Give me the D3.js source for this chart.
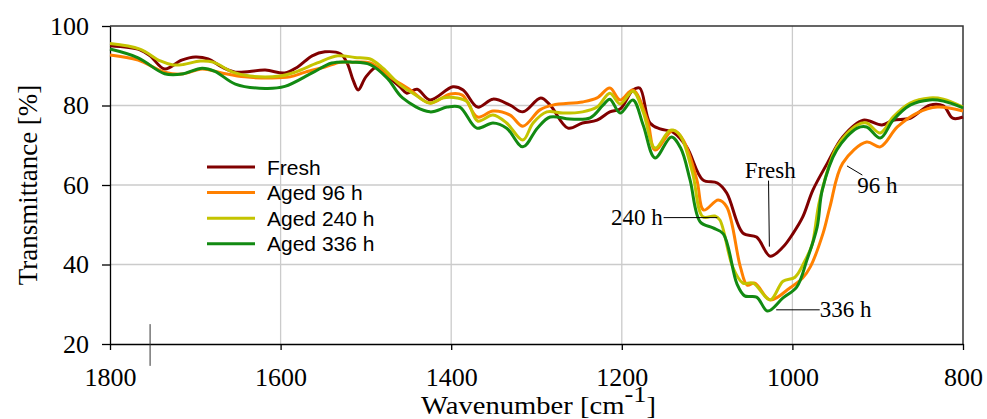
<!DOCTYPE html>
<meta charset="utf-8">
<script src="https://d3js.org/d3.v7.min.js"></script>
<style>
body { margin: 0; background: #fff; }
.tick text { font-family: "Liberation Serif", "Times New Roman", serif; font-size: 26px; fill: #000; }
.axis path, .axis line { stroke: #000; stroke-width: 1.3px; }
.grid line { stroke: #cbcbcb; stroke-width: 1.3px; }
.legend text { font-family: "Liberation Sans", Arial, sans-serif; font-size: 21px; fill: #000; }
.note text { font-family: "Liberation Serif", "Times New Roman", serif; font-size: 23px; fill: #000; }
.note line { stroke: #000; stroke-width: 1px; }
</style>
<body>
<svg id="chart" width="987" height="419"></svg>
<script>

// spectra: [wavenumber cm-1, transmittance %]
var fresh = [
  [1800,95.0],[1765,94.0],[1753,92.5],[1736,89.2],[1716,91.4],[1700,92.2],[1685,91.7],
  [1669,89.7],[1653,88.4],[1618,88.9],[1595,88.2],[1580,89.7],[1563,92.5],[1548,93.5],
  [1530,93.0],[1522,90.7],[1515,86.4],[1509,83.9],[1500,87.2],[1487,89.7],[1472,86.9],
  [1460,84.7],[1452,83.1],[1440,84.1],[1425,81.4],[1398,84.7],[1386,83.9],[1369,79.6],
  [1351,81.6],[1331,80.1],[1316,78.4],[1295,81.9],[1284,80.1],[1263,74.3],[1246,75.6],
  [1229,76.3],[1214,78.4],[1202,79.1],[1187,83.9],[1179,84.4],[1167,75.6],[1155,74.1],
  [1140,73.3],[1124,69.6],[1105,61.3],[1088,60.5],[1077,58.0],[1058,47.9],[1042,46.9],
  [1026,42.1],[1011,44.4],[999,47.9],[988,51.9],[976,58.7],[959,65.5],[941,72.1],
  [917,76.3],[895,75.1],[882,76.3],[862,76.8],[839,80.1],[823,79.9],[812,76.8],[800,77.1]
];

var aged96 = [
  [1800,92.7],[1767,91.4],[1736,88.4],[1716,87.9],[1692,89.2],[1669,88.2],[1642,87.2],
  [1610,86.9],[1589,87.2],[1571,88.4],[1548,89.7],[1530,90.9],[1516,90.9],[1495,90.7],
  [1472,87.2],[1448,83.9],[1425,80.6],[1401,82.9],[1387,82.6],[1369,77.1],[1351,78.6],
  [1331,77.6],[1316,74.8],[1296,78.9],[1281,80.1],[1246,80.9],[1229,81.9],[1214,84.4],
  [1202,81.4],[1187,83.9],[1170,76.3],[1161,68.8],[1140,73.8],[1128,71.3],[1112,61.3],
  [1104,53.7],[1087,56.2],[1077,54.5],[1061,39.4],[1053,34.8],[1044,35.3],[1026,31.1],
  [1003,34.1],[988,36.6],[979,39.4],[964,47.9],[956,54.5],[941,65.5],[913,70.8],
  [897,69.6],[877,74.6],[854,78.1],[830,79.6],[800,78.6]
];

var aged240 = [
  [1800,95.6],[1765,94.2],[1741,91.2],[1726,90.2],[1714,90.3],[1694,91.2],[1679,90.9],
  [1656,88.4],[1636,87.4],[1601,87.4],[1583,88.4],[1557,90.7],[1533,92.5],[1513,92.1],
  [1495,91.7],[1480,89.4],[1460,85.2],[1445,83.1],[1425,80.6],[1410,81.9],[1393,81.9],
  [1381,80.9],[1369,76.1],[1351,77.6],[1335,75.6],[1316,71.3],[1304,75.6],[1288,78.4],
  [1269,78.1],[1246,78.4],[1229,79.6],[1214,83.1],[1202,80.4],[1187,83.6],[1175,78.4],
  [1161,69.3],[1143,73.8],[1132,72.6],[1117,63.0],[1105,52.0],[1091,52.2],[1085,51.2],
  [1070,39.4],[1058,35.3],[1046,35.3],[1026,31.1],[1011,35.8],[997,36.8],[985,41.1],
  [977,44.9],[968,56.2],[948,69.6],[924,75.1],[913,75.6],[897,73.1],[882,77.1],
  [862,80.6],[839,81.9],[823,81.6],[800,79.6]
];

var aged336 = [
  [1800,94.2],[1767,92.0],[1736,88.0],[1716,87.9],[1692,89.4],[1677,88.6],[1653,85.4],
  [1618,84.3],[1595,84.8],[1563,88.2],[1540,90.7],[1516,90.9],[1495,90.3],[1475,86.9],
  [1457,81.9],[1425,78.4],[1405,79.6],[1390,79.6],[1370,74.3],[1351,75.6],[1335,74.3],
  [1316,69.6],[1299,74.3],[1284,77.1],[1261,76.6],[1237,76.9],[1222,80.1],[1214,81.6],
  [1202,78.1],[1187,81.4],[1175,75.1],[1161,66.8],[1142,72.1],[1131,69.3],[1120,61.3],
  [1108,50.7],[1093,49.2],[1081,47.7],[1065,35.1],[1056,32.1],[1042,31.8],[1029,28.3],
  [1011,31.6],[995,34.3],[983,41.1],[971,49.4],[965,58.7],[948,68.8],[924,74.3],
  [913,74.6],[897,71.8],[882,76.3],[862,80.1],[839,81.4],[823,81.1],[800,79.4]
];

var seriesNames = ["Fresh", "Aged 96 h", "Aged 240 h", "Aged 336 h"];
var seriesColors = ["#800000", "#ff8000", "#c4c400", "#128a12"];
var xTicks = [1800, 1600, 1400, 1200, 1000, 800];
var yTicks = [20, 40, 60, 80, 100];

// callouts: label, point on curve [wn, T], end of leader [wn, T], label anchor [wn, T]
var notes = [
  {label: "Fresh", anchor: "middle", from: [1027, 44.5], to: [1028, 61.1], text: [1026, 61.8]},
  {label: "96 h", anchor: "start", from: [936, 64.8], to: [918, 62.5], text: [924, 58.0]},
  {label: "240 h", anchor: "end", from: [1088, 51.8], to: [1151, 51.8], text: [1152, 49.9]},
  {label: "336 h", anchor: "start", from: [1019, 28.6], to: [968, 28.6], text: [968, 26.8]}
];

var margin = {top: 26, right: 24, bottom: 75, left: 110};
var width = 987 - margin.left - margin.right,
    height = 419 - margin.top - margin.bottom;

var svg = d3.select("#chart")
  .append("g")
    .attr("transform", "translate(" + margin.left + "," + margin.top + ")");

var x = d3.scaleLinear().domain([1800, 800]).range([0, width]);
var y = d3.scaleLinear().domain([20, 100]).range([height, 0]);

// grid
svg.append("g").attr("class", "grid")
  .selectAll("line").data(xTicks.slice(1, -1)).enter().append("line")
    .attr("x1", function(d) { return x(d); }).attr("x2", function(d) { return x(d); })
    .attr("y1", 0).attr("y2", height);
svg.append("g").attr("class", "grid")
  .selectAll("line").data(yTicks.slice(1, -1)).enter().append("line")
    .attr("y1", function(d) { return y(d); }).attr("y2", function(d) { return y(d); })
    .attr("x1", 0).attr("x2", width);

// top / right frame
svg.append("path")
  .attr("d", "M0,0H" + width + "V" + height)
  .attr("fill", "none").attr("stroke", "#333").attr("stroke-width", 1.5);

var xAxis = d3.axisBottom(x).tickValues(xTicks).tickFormat(d3.format("d"))
  .tickSize(6).tickSizeOuter(0).tickPadding(18);
var yAxis = d3.axisLeft(y).tickValues(yTicks).tickSize(8).tickSizeOuter(0).tickPadding(13);

svg.append("g").attr("class", "x axis")
  .attr("transform", "translate(0," + height + ")")
  .call(xAxis);
svg.append("g").attr("class", "y axis").call(yAxis);

// the stray mark below the axis near 1750
svg.append("line")
  .attr("x1", x(1753)).attr("x2", x(1753))
  .attr("y1", y(25)).attr("y2", y(14.5))
  .attr("stroke", "#333").attr("stroke-width", 1);

var line = d3.line()
  .x(function(d) { return x(d[0]); })
  .y(function(d) { return y(d[1]); })
  .curve(d3.curveCatmullRom.alpha(0.5));

var allSeries = [fresh, aged96, aged240, aged336];
svg.selectAll(".spectrum")
  .data(allSeries).enter().append("path")
    .attr("class", "spectrum")
    .attr("d", line)
    .attr("fill", "none")
    .attr("stroke", function(d, i) { return seriesColors[i]; })
    .attr("stroke-width", 3)
    .attr("stroke-linejoin", "round");

// callouts
var note = svg.append("g").attr("class", "note")
  .selectAll("g").data(notes).enter().append("g");
note.append("line")
  .attr("x1", function(d) { return x(d.from[0]); })
  .attr("y1", function(d) { return y(d.from[1]); })
  .attr("x2", function(d) { return x(d.to[0]); })
  .attr("y2", function(d) { return y(d.to[1]); });
note.append("text")
  .attr("x", function(d) { return x(d.text[0]); })
  .attr("y", function(d) { return y(d.text[1]); })
  .attr("text-anchor", function(d) { return d.anchor; })
  .text(function(d) { return d.label; });

// legend
var legend = svg.append("g").attr("class", "legend")
  .attr("transform", "translate(97,141)");
var row = legend.selectAll("g").data(seriesNames).enter().append("g")
  .attr("transform", function(d, i) { return "translate(0," + (i * 25.6) + ")"; });
row.append("line")
  .attr("x1", 0).attr("x2", 48)
  .attr("stroke", function(d, i) { return seriesColors[i]; })
  .attr("stroke-width", 3);
row.append("text")
  .attr("x", 60).attr("dy", "0.36em")
  .text(function(d) { return d; });

// axis titles
svg.append("text")
  .attr("transform", "translate(" + (width / 2 + 2) + "," + (height + 70) + ") scale(1.1,1)")
  .attr("text-anchor", "middle")
  .style("font-family", "Liberation Serif, Times New Roman, serif")
  .style("font-size", "26px")
  .text("Wavenumber [cm")
  .call(function(t) {
    t.append("tspan").attr("dy", -12).style("font-size", "24px").text("-1");
    t.append("tspan").attr("dy", 12).text("]");
  });

svg.append("text")
  .attr("transform", "translate(-73," + (height / 2) + ") rotate(-90)")
  .attr("text-anchor", "middle")
  .style("font-family", "Liberation Serif, Times New Roman, serif")
  .style("font-size", "27px")
  .text("Transmittance [%]");

</script>
</body>
